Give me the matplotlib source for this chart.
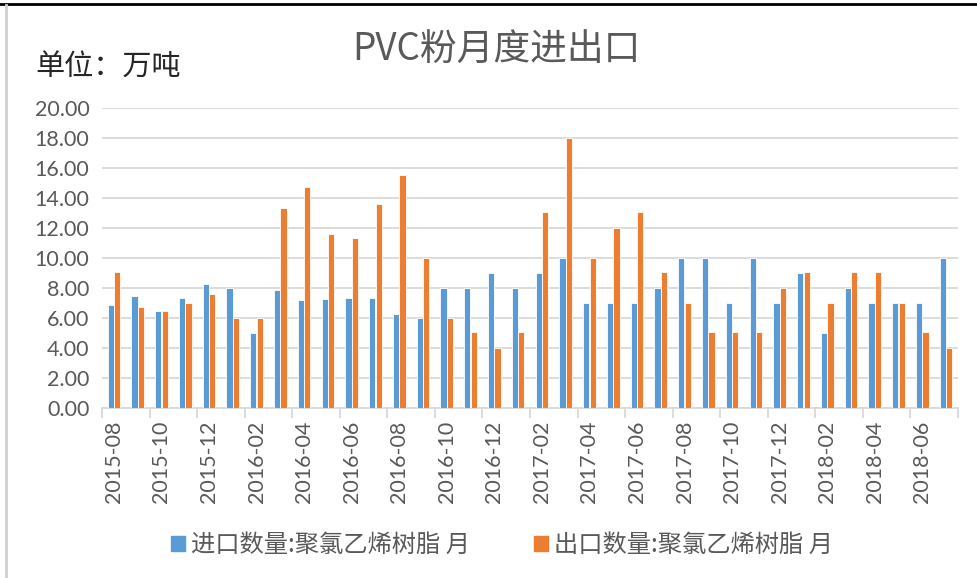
import matplotlib
matplotlib.use("Agg")
import matplotlib.pyplot as plt
import numpy as np
from matplotlib.lines import Line2D

plt.rcParams['font.family'] = ['Noto Sans CJK SC', 'DejaVu Sans']

months = ["2015-08", "2015-09", "2015-10", "2015-11", "2015-12",
          "2016-01", "2016-02", "2016-03", "2016-04", "2016-05", "2016-06",
          "2016-07", "2016-08", "2016-09", "2016-10", "2016-11", "2016-12",
          "2017-01", "2017-02", "2017-03", "2017-04", "2017-05", "2017-06",
          "2017-07", "2017-08", "2017-09", "2017-10", "2017-11", "2017-12",
          "2018-01", "2018-02", "2018-03", "2018-04", "2018-05", "2018-06",
          "2018-07"]
imports = [6.9, 7.45, 6.5, 7.35, 8.3, 8.0, 5.0, 7.85, 7.2, 7.25, 7.35, 7.35,
           6.25, 6.0, 8.0, 8.0, 9.0, 8.0, 9.0, 10.0, 7.0, 7.0, 7.0, 8.0,
           10.0, 10.0, 7.0, 10.0, 7.0, 9.0, 5.0, 8.0, 7.0, 7.0, 7.0, 10.0]
exports = [9.05, 6.75, 6.5, 7.0, 7.6, 6.0, 6.0, 13.3, 14.7, 11.6, 11.3, 13.6,
           15.55, 10.0, 6.0, 5.05, 4.0, 5.05, 13.05, 18.0, 10.0, 12.0, 13.05, 9.05,
           7.0, 5.05, 5.05, 5.05, 8.0, 9.05, 7.0, 9.05, 9.05, 7.0, 5.05, 4.0]
series_names = ["进口数量:聚氯乙烯树脂 月", "出口数量:聚氯乙烯树脂 月"]
title = "PVC粉月度进出口"
unit_text = "单位：万吨"

blue = "#5B9BD5"
orange = "#ED7D31"
gray_text = "#595959"
grid_c = "#D9D9D9"

W, H = 977, 578
fig = plt.figure(figsize=(W / 100, H / 100), dpi=100)
ax = fig.add_axes([102 / W, 1 - 408.3 / H, 856 / W, (408.3 - 107.7) / H])

x = np.arange(len(months))
bw = 0.26
ax.bar(x - 0.135, imports, width=bw, color=blue, edgecolor="white", linewidth=0.6, zorder=3)
ax.bar(x + 0.135, exports, width=bw, color=orange, edgecolor="white", linewidth=0.6, zorder=3)

ax.set_xlim(-0.5, len(months) - 0.5)
ax.set_ylim(0, 20)
ax.set_yticks(np.arange(0, 20.1, 2))
ax.set_yticklabels([f"{v:.2f}" for v in np.arange(0, 20.1, 2)],
                   family=['Lato', 'DejaVu Sans'], fontsize=15.5, color=gray_text)
ax.tick_params(axis='y', length=0, pad=9)
ax.grid(axis='y', color=grid_c, linewidth=1.3, zorder=0)

# major ticks at category boundaries every 2, labels at category centers
ax.set_xticks(np.arange(-0.5, len(months), 2))
ax.set_xticklabels([])
ax.tick_params(axis='x', which='major', length=7, color=grid_c, width=1.3)
ax.set_xticks(x[::2], minor=True)
ax.set_xticklabels(months[::2], minor=True, rotation=90,
                   family=['Lato', 'DejaVu Sans'], fontsize=15.5, color=gray_text)
ax.tick_params(axis='x', which='minor', length=0, pad=9)

for s in ['top', 'right', 'left']:
    ax.spines[s].set_visible(False)
ax.spines['bottom'].set_color(grid_c)
ax.spines['bottom'].set_linewidth(1.3)

fig.text(496 / W, 1 - 50 / H, title, ha='center', va='center',
         fontsize=26.5, color=gray_text, fontweight='light')
fig.text(35 / W, 1 - 68 / H, unit_text, ha='left', va='center',
         fontsize=21, color="#262626")

handles = [plt.Rectangle((0, 0), 1, 1, color=blue), plt.Rectangle((0, 0), 1, 1, color=orange)]
fig.legend(handles, series_names, loc='center', bbox_to_anchor=(502 / W, 1 - 545 / H),
           ncol=2, frameon=False, fontsize=17.5, labelcolor=gray_text,
           handlelength=0.6, handleheight=0.6, handletextpad=0.25, columnspacing=2.6)

# screenshot frame
fig.add_artist(Line2D([0, 1], [1 - 4 / H, 1 - 4 / H], transform=fig.transFigure,
                      color="black", linewidth=2))
fig.add_artist(Line2D([5.5 / W, 5.5 / W], [0, 1 - 5 / H], transform=fig.transFigure,
                      color="#D0D0D0", linewidth=2))

fig.savefig("out.png", dpi=100)
